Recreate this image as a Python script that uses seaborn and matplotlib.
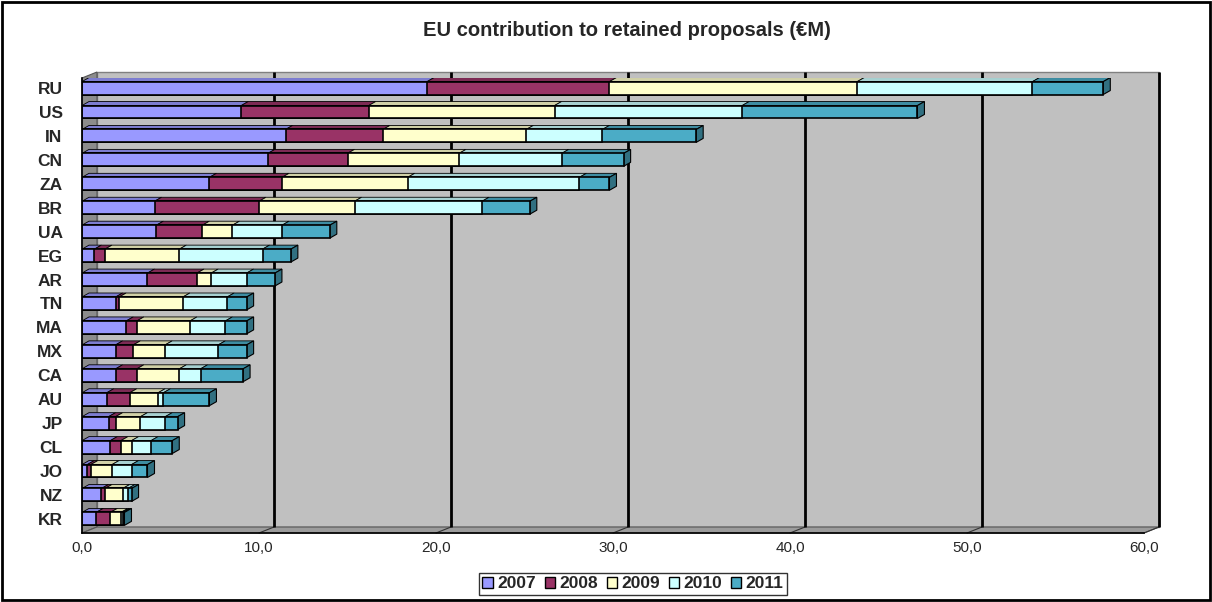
import numpy as np
import pandas as pd
import matplotlib
matplotlib.use('Agg')
import matplotlib.pyplot as plt
import matplotlib.colors as mcolors
import matplotlib.transforms as mtransforms
from matplotlib.patches import Rectangle, Polygon, Patch
import seaborn as sns

# EU contribution (EUR M) per partner country and year
countries = ['RU', 'US', 'IN', 'CN', 'ZA', 'BR', 'UA', 'EG', 'AR', 'TN',
             'MA', 'MX', 'CA', 'AU', 'JP', 'CL', 'JO', 'NZ', 'KR']
years = ['2007', '2008', '2009', '2010', '2011']
eu_2007 = [19.5, 9.0, 11.5, 10.5, 7.2, 4.1, 4.2, 0.7, 3.7, 1.9, 2.5, 1.9, 1.9, 1.4, 1.5, 1.6, 0.3, 1.1, 0.8]
eu_2008 = [10.3, 7.2, 5.5, 4.5, 4.1, 5.9, 2.6, 0.6, 2.8, 0.2, 0.6, 1.0, 1.2, 1.3, 0.4, 0.6, 0.2, 0.2, 0.8]
eu_2009 = [14.0, 10.5, 8.1, 6.3, 7.1, 5.4, 1.7, 4.2, 0.8, 3.6, 3.0, 1.8, 2.4, 1.6, 1.4, 0.6, 1.2, 1.0, 0.6]
eu_2010 = [9.9, 10.6, 4.3, 5.8, 9.7, 7.2, 2.8, 4.7, 2.0, 2.5, 2.0, 3.0, 1.2, 0.3, 1.4, 1.1, 1.1, 0.3, 0.1]
eu_2011 = [4.0, 9.9, 5.3, 3.5, 1.7, 2.7, 2.7, 1.6, 1.6, 1.1, 1.2, 1.6, 2.4, 2.6, 0.7, 1.2, 0.9, 0.2, 0.1]

# Excel 2003 style palette
COLORS = ['#9999FF', '#993366', '#FFFFCC', '#CCFFFF', '#4BACC6']
WALL_COLOR = '#C0C0C0'
SIDE_COLOR = '#8C8C8C'
FLOOR_COLOR = '#9C9C9C'

sns.set_style('white')
plt.rcParams['font.family'] = ['Liberation Sans', 'DejaVu Sans']

df = pd.DataFrame({'country': countries, '2007': eu_2007, '2008': eu_2008,
                   '2009': eu_2009, '2010': eu_2010, '2011': eu_2011})
cum = df[years].cumsum(axis=1)

W, H = 1212, 602
fig = plt.figure(figsize=(W / 100, H / 100), dpi=100)
fig.patch.set_facecolor('white')

# front plane of the pseudo 3D chart
left_px, right_px, top_px, bot_px = 82, 1144, 78, 533
ax = fig.add_axes([left_px / W, 1 - bot_px / H, (right_px - left_px) / W, (bot_px - top_px) / H])
ax.set_facecolor('none')

n = len(countries)
ylim = (n - 1 + 0.59, -0.42)
XMAX = 60
BAR_H = 0.54
DEPTH_X, DEPTH_Y = 15, 6      # wall depth in pixels
BAR_DX, BAR_DY = 7, 4         # bar depth in pixels

px_x = (right_px - left_px) / XMAX
px_y = (bot_px - top_px) / (ylim[0] - ylim[1])
dxa = DEPTH_X / (right_px - left_px)
dya = DEPTH_Y / (bot_px - top_px)

# back wall, side wall and floor
ax.add_patch(Rectangle((dxa, dya), 1, 1, transform=ax.transAxes, facecolor=WALL_COLOR,
                       edgecolor='#808080', lw=1, zorder=0, clip_on=False))
ax.add_patch(Polygon([(0, 0), (0, 1), (dxa, 1 + dya), (dxa, dya)], closed=True, transform=ax.transAxes,
                     facecolor=SIDE_COLOR, edgecolor='#555555', lw=0.8, zorder=0.5, clip_on=False))
ax.add_patch(Polygon([(0, 0), (1, 0), (1 + dxa, dya), (dxa, dya)], closed=True, transform=ax.transAxes,
                     facecolor=FLOOR_COLOR, edgecolor='#555555', lw=0.8, zorder=0.5, clip_on=False))

# gridlines on the back wall
grid_tr = ax.get_xaxis_transform() + mtransforms.ScaledTranslation(DEPTH_X / 100, 0, fig.dpi_scale_trans)
ax.vlines(np.arange(10, XMAX + 1, 10), dya, 1 + dya, transform=grid_tr, colors='black',
          lw=2, zorder=1, clip_on=False)
# slanted floor lines from front ticks to back gridlines
for xv in np.arange(10, XMAX + 1, 10):
    xa = xv / XMAX
    ax.plot([xa, xa + dxa], [0, dya], transform=ax.transAxes, color='#333333', lw=0.8,
            zorder=0.6, clip_on=False)

# stacked bars: draw cumulative totals from the largest down
for k in reversed(range(len(years))):
    sns.barplot(x=cum[years[k]], y=df['country'], orient='h', color=COLORS[k], saturation=1,
                edgecolor='black', linewidth=1.2, width=BAR_H, errorbar=None, ax=ax, zorder=3)

# 3D top faces and end caps of the bars
dxd = BAR_DX / px_x
dyd = BAR_DY / px_y
for i in range(n):
    y_top = i - BAR_H / 2
    y_bot = i + BAR_H / 2
    prev = 0.0
    for k, yr in enumerate(years):
        r = cum.loc[i, yr]
        shade = np.array(mcolors.to_rgb(COLORS[k])) * 0.82
        ax.add_patch(Polygon([(prev, y_top), (r, y_top), (r + dxd, y_top - dyd), (prev + dxd, y_top - dyd)],
                             closed=True, facecolor=shade, edgecolor='black', lw=0.6, zorder=2.5))
        prev = r
    side = np.array(mcolors.to_rgb(COLORS[-1])) * 0.65
    ax.add_patch(Polygon([(prev, y_top), (prev + dxd, y_top - dyd), (prev + dxd, y_bot - dyd), (prev, y_bot)],
                         closed=True, facecolor=side, edgecolor='black', lw=0.8, zorder=2.5))

ax.set_xlim(0, XMAX)
ax.set_ylim(*ylim)
ax.set_xlabel('')
ax.set_ylabel('')
ax.set_xticks(np.arange(0, XMAX + 1, 10))
ax.set_xticklabels([f"{v:.1f}".replace('.', ',') for v in np.arange(0, XMAX + 1, 10)],
                   fontsize=11, family=['Liberation Sans Narrow', 'Liberation Sans'])
ax.set_yticks(range(n))
ax.set_yticklabels(countries, fontsize=12.5, fontweight='bold')
ax.set_yticks(np.arange(-0.42, n, 1.0), minor=True)
ax.tick_params(axis='y', which='major', length=0, pad=14)
ax.tick_params(axis='y', which='minor', length=3, width=1, color='black', direction='out')
ax.tick_params(axis='x', which='major', length=3, width=1, color='black', direction='out', pad=3)
for side_name in ['top', 'right']:
    ax.spines[side_name].set_visible(False)
for side_name in ['left', 'bottom']:
    ax.spines[side_name].set_color('black')
    ax.spines[side_name].set_linewidth(1.2)
    ax.spines[side_name].set_zorder(4)

fig.text(627 / W, 1 - 30 / H, 'EU contribution to retained proposals (€M)',
         ha='center', va='center', fontsize=14.5, fontweight='bold')

handles = [Patch(facecolor=c, edgecolor='black', lw=1) for c in COLORS]
leg = fig.legend(handles, years, loc='center', bbox_to_anchor=(633 / W, 1 - 584 / H), ncol=5,
                 frameon=True, fancybox=False, edgecolor='black', prop={'weight': 'bold', 'size': 12.5},
                 handlelength=0.6, handleheight=0.6, handletextpad=0.25, columnspacing=0.5,
                 borderpad=0.2, borderaxespad=0)
leg.get_frame().set_linewidth(1)

# outer chart frame
fig.add_artist(Rectangle((2 / W, 2 / H), 1 - 4 / W, 1 - 4 / H, transform=fig.transFigure,
                         fill=False, edgecolor='black', lw=2))

fig.savefig('out.png', dpi=100, facecolor='white')
